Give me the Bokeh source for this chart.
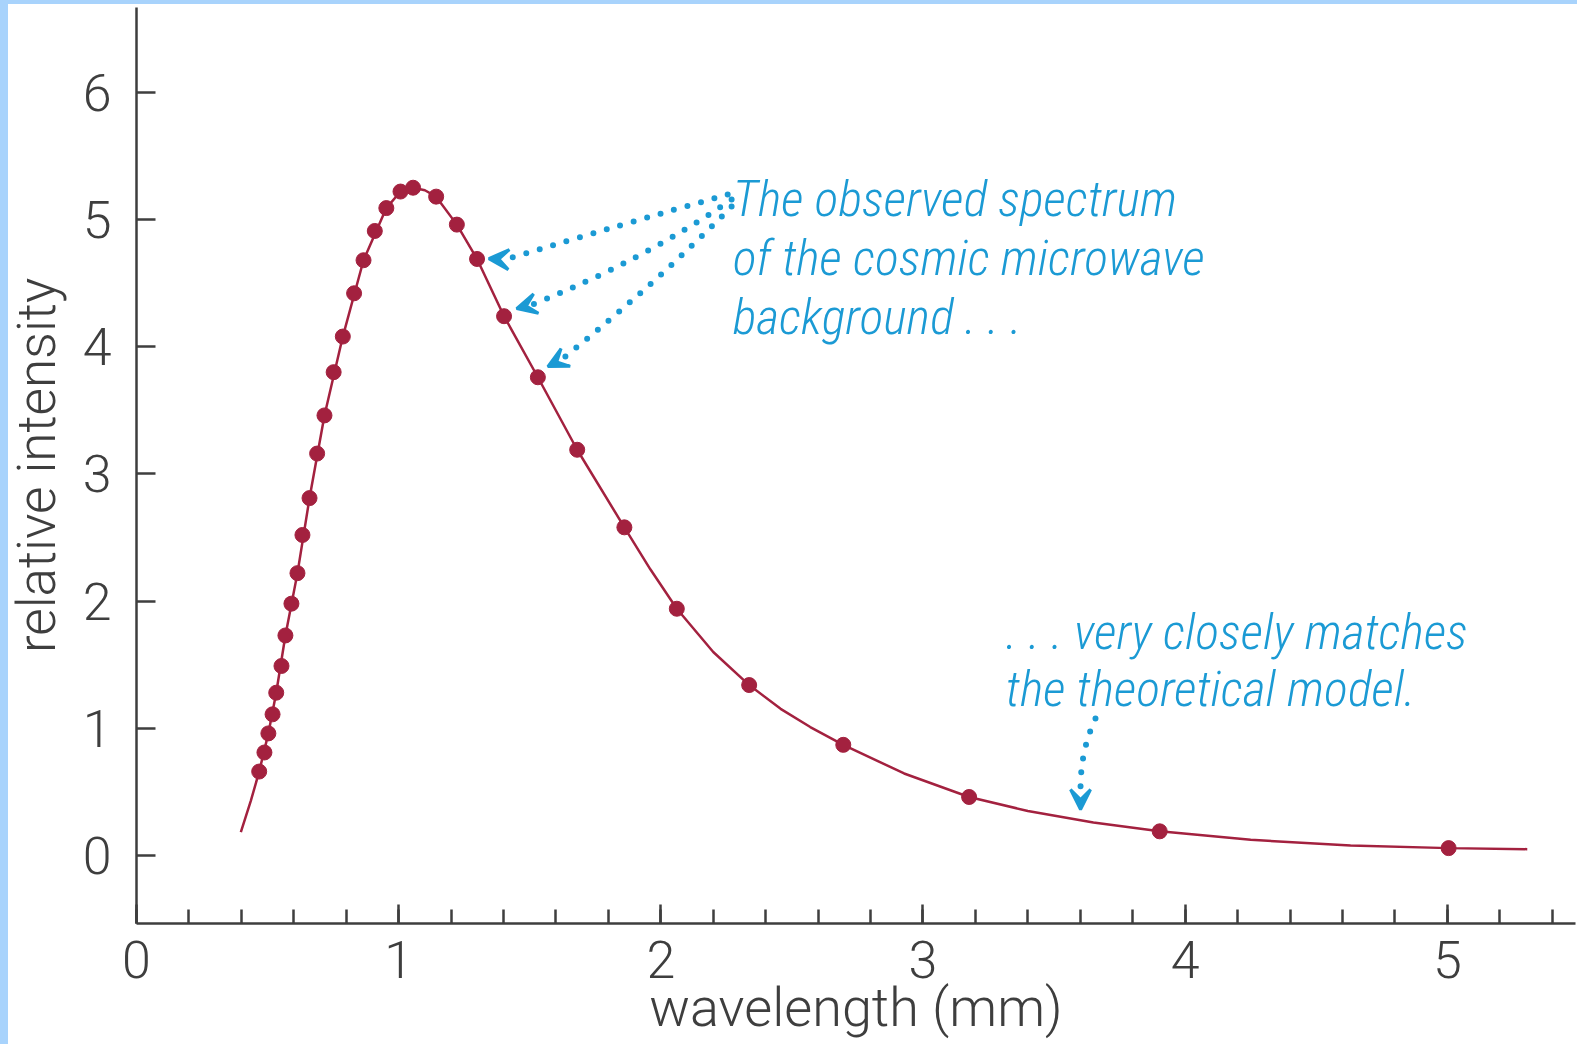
from bokeh.plotting import figure
from bokeh.models import Range1d, SingleIntervalTicker, Arrow, VeeHead
from bokeh.core.properties import value
from bokeh.embed import file_html
from bokeh.resources import INLINE

# ---------------- data ----------------
# observed spectrum (dots)
obs_wavelength = [0.468, 0.488, 0.503, 0.519, 0.533, 0.553, 0.568, 0.591, 0.614, 0.633,
                  0.660, 0.689, 0.717, 0.752, 0.787, 0.830, 0.866, 0.909, 0.953, 1.007,
                  1.055, 1.143, 1.222, 1.299, 1.402, 1.531, 1.681, 1.861, 2.061, 2.337,
                  2.696, 3.176, 3.903, 5.005]
obs_intensity = [0.66, 0.81, 0.96, 1.11, 1.28, 1.49, 1.73, 1.98, 2.22, 2.52,
                 2.81, 3.16, 3.46, 3.80, 4.08, 4.42, 4.68, 4.91, 5.09, 5.22,
                 5.25, 5.18, 4.96, 4.69, 4.24, 3.76, 3.19, 2.58, 1.94, 1.34,
                 0.87, 0.46, 0.19, 0.058]

# theoretical model (curve)
model_wavelength = [0.398, 0.436, 0.468, 0.503, 0.533, 0.568, 0.614, 0.660, 0.717, 0.787,
                    0.866, 0.953, 1.007, 1.055, 1.100, 1.143, 1.222, 1.299, 1.402, 1.531,
                    1.681, 1.861, 1.960, 2.061, 2.200, 2.337, 2.457, 2.570, 2.696, 2.928,
                    3.176, 3.400, 3.650, 3.903, 4.250, 4.631, 5.005, 5.305]
model_intensity = [0.183, 0.43, 0.66, 0.96, 1.28, 1.73, 2.22, 2.81, 3.46, 4.08,
                   4.68, 5.09, 5.22, 5.25, 5.23, 5.18, 4.96, 4.69, 4.24, 3.76,
                   3.19, 2.58, 2.25, 1.94, 1.60, 1.34, 1.153, 1.01, 0.87, 0.645,
                   0.46, 0.35, 0.26, 0.19, 0.123, 0.079, 0.058, 0.050]

x_title = "wavelength (mm)"
y_title = "relative intensity"

note1_lines = ["The observed spectrum", "of the cosmic microwave", "background . . ."]
note2_lines = [". . . very closely matches", "the theoretical model."]

# ---------------- style ----------------
RED = "#A3213F"
BLUE = "#1B9AD4"
AXIS = "#3E3E3E"
AXIS_FONT = "Roboto Light"
NOTE_FONT = ("'Roboto Condensed Light', 'Roboto Condensed', 'DejaVu Sans Condensed', "
             "'Liberation Sans Narrow', 'Roboto Light'")

p = figure(width=1577, height=1044, output_backend="svg", toolbar_location=None,
           x_range=Range1d(0, 5.489), y_range=Range1d(-0.5346, 6.667),
           min_border_left=136, min_border_right=2, min_border_top=7,
           min_border_bottom=121)
# light-blue page edge (left and top)
p.styles = {"box-shadow": "inset 8px 4px 0 0 #A8D3FC"}
p.border_fill_alpha = 0
p.xgrid.visible = False
p.ygrid.visible = False
p.outline_line_color = None
p.background_fill_color = "white"

xa = p.xaxis[0]
xa.ticker = SingleIntervalTicker(interval=1, num_minor_ticks=5)
xa.axis_label = x_title
ya = p.yaxis[0]
ya.ticker = SingleIntervalTicker(interval=1, num_minor_ticks=0)
ya.axis_label = y_title

for ax in (xa, ya):
    ax.axis_line_color = AXIS
    ax.axis_line_width = 2.5
    ax.major_tick_line_color = AXIS
    ax.major_tick_line_width = 2.5
    ax.minor_tick_line_color = AXIS
    ax.minor_tick_line_width = 2.5
    ax.major_tick_in = 19
    ax.major_tick_out = 0
    ax.minor_tick_in = 14
    ax.minor_tick_out = 0
    ax.major_label_text_font = AXIS_FONT
    ax.major_label_text_font_size = "52px"
    ax.major_label_text_color = AXIS
    ax.axis_label_text_font = AXIS_FONT
    ax.axis_label_text_font_style = "normal"
    ax.axis_label_text_color = AXIS
ya.minor_tick_line_color = None
xa.axis_label_text_font_size = "54px"
ya.axis_label_text_font_size = "53px"
xa.major_label_standoff = 17
xa.axis_label_standoff = -5
ya.major_label_standoff = 25
ya.axis_label_standoff = 12

# model curve and observed points
p.line(model_wavelength, model_intensity, line_color=RED, line_width=2.5)
p.scatter(obs_wavelength, obs_intensity, size=15, fill_color=RED, line_color=RED)

# annotation texts
p.text(x=[2.274] * 3, y=[5.164, 4.699, 4.234], text=note1_lines,
       text_font=value(NOTE_FONT), text_font_style="italic", text_font_size="50px",
       text_color=BLUE, text_baseline="alphabetic", text_align="left")
p.text(x=[3.316] * 2, y=[1.760, 1.312], text=note2_lines,
       text_font=value(NOTE_FONT), text_font_style="italic", text_font_size="50px",
       text_color=BLUE, text_baseline="alphabetic", text_align="left")

# dotted leader curves (start, control, end) and chevron tips
arrows = [
    ((2.255, 5.196), (1.862, 4.969), (1.408, 4.686), (1.344, 4.693)),
    ((2.270, 5.157), (1.939, 4.686), (1.511, 4.332), (1.450, 4.300)),
    ((2.270, 5.102), (1.977, 4.489), (1.622, 3.900), (1.569, 3.844)),
    ((3.658, 1.077), (3.601, 0.825), (3.601, 0.526), (3.601, 0.362)),
]
p.quadratic(x0=[a[0][0] for a in arrows], y0=[a[0][1] for a in arrows],
            x1=[a[2][0] for a in arrows], y1=[a[2][1] for a in arrows],
            cx=[a[1][0] for a in arrows], cy=[a[1][1] for a in arrows],
            line_color=BLUE, line_width=6, line_dash="0 14", line_cap="round")
for s, c, e, tip in arrows:
    p.add_layout(Arrow(end=VeeHead(size=20, fill_color=BLUE, line_color=BLUE, line_width=3),
                       x_start=e[0], y_start=e[1], x_end=tip[0], y_end=tip[1],
                       line_alpha=0))

open("out.html", "w").write(file_html(p, INLINE))
